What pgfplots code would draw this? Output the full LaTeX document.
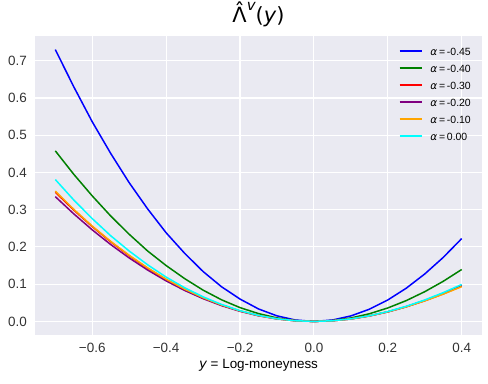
\documentclass[border=0pt]{standalone}
\usepackage{fontspec}
\setmainfont{Liberation Sans}
\newfontfamily\dejavu{DejaVu Sans}
\usepackage{pgfplots}
\pgfplotsset{compat=1.18}

\definecolor{bgc}{HTML}{EAEAF2}
\definecolor{mpurple}{RGB}{128,0,128}
\definecolor{morange}{RGB}{255,165,0}
\definecolor{mgreen}{RGB}{0,128,0}
\definecolor{mcyan}{RGB}{0,255,255}

\newcommand{\alab}[1]{{\dejavu\itshape α}\,=\,#1}

\begin{document}
\begin{tikzpicture}
\begin{axis}[
    scale only axis,
    width=447bp, height=299bp,
    xmin=-0.755, xmax=0.455,
    ymin=-0.0365, ymax=0.7665,
    axis background/.style={fill=bgc},
    axis line style={draw=none},
    tick style={draw=none},
    grid=major,
    major grid style={white, line width=1.1bp},
    xtick={-0.6,-0.4,-0.2,0,0.2,0.4},
    xticklabels={−0.6,−0.4,−0.2,0.0,0.2,0.4},
    ytick={0,0.1,0.2,0.3,0.4,0.5,0.6,0.7},
    yticklabels={0.0,0.1,0.2,0.3,0.4,0.5,0.6,0.7},
    tick label style={font=\fontsize{13.5}{16}\selectfont, text=black!80},
    xticklabel style={inner sep=0pt, anchor=north, yshift=-8bp},
    yticklabel style={inner sep=0pt, anchor=east, xshift=-8bp},
    title={{\dejavu\upshape\ooalign{Λ\cr\hidewidth\raisebox{0.2em}{ˆ}\hidewidth\cr}\raisebox{0.55em}{\fontsize{15}{17}\selectfont\itshape v}(\textit{y})}},
    title style={at={(0.5,1)}, anchor=south, inner sep=0pt, yshift=3bp,
        font=\fontsize{21}{24}\selectfont},
    xlabel={{\dejavu\itshape y} = Log-moneyness},
    xlabel style={at={(axis description cs:0.5,0)}, anchor=north, inner sep=0pt,
        yshift=-24bp, font=\fontsize{13.5}{16}\selectfont},
    legend cell align=left,
    legend style={at={(1,1)}, anchor=north east, xshift=-11bp, yshift=-11bp,
        draw=none, fill=none, inner sep=0pt, row sep=9bp,
        font=\fontsize{10.5}{12}\selectfont,
        nodes={inner sep=0pt, text height=8bp, text depth=0bp},
        /tikz/every odd column/.append style={column sep=8bp}},
    legend image code/.code={\draw[#1] (0bp,0bp) -- (22bp,0bp);},
    every axis plot/.append style={line width=1.5bp},
]

\addplot[blue] coordinates {
(-0.70,0.730) (-0.65,0.630) (-0.60,0.536) (-0.55,0.451) (-0.50,0.3725)
(-0.45,0.302) (-0.40,0.238) (-0.35,0.183) (-0.30,0.134) (-0.25,0.093)
(-0.20,0.060) (-0.15,0.0335) (-0.10,0.0149) (-0.05,0.0037) (0,0)
(0.05,0.0037) (0.10,0.0147) (0.15,0.0327) (0.20,0.0576) (0.25,0.0892)
(0.30,0.1274) (0.35,0.1718) (0.40,0.2224)
};
\addlegendentry{\alab{-0.45}}

\addplot[mgreen] coordinates {
(-0.70,0.458) (-0.65,0.395) (-0.60,0.337) (-0.55,0.283) (-0.50,0.234)
(-0.45,0.189) (-0.40,0.150) (-0.35,0.115) (-0.30,0.084) (-0.25,0.058)
(-0.20,0.037) (-0.15,0.021) (-0.10,0.0094) (-0.05,0.0023) (0,0)
(0.05,0.0023) (0.10,0.0092) (0.15,0.0205) (0.20,0.0361) (0.25,0.0559)
(0.30,0.0798) (0.35,0.1077) (0.40,0.1394)
};
\addlegendentry{\alab{-0.40}}

\addplot[red] coordinates {
(-0.70,0.347) (-0.65,0.299) (-0.60,0.2545) (-0.55,0.2136) (-0.50,0.1763)
(-0.45,0.1426) (-0.40,0.1125) (-0.35,0.0860) (-0.30,0.0631) (-0.25,0.0438)
(-0.20,0.0280) (-0.15,0.0157) (-0.10,0.0070) (-0.05,0.0017) (0,0)
(0.05,0.0017) (0.10,0.0067) (0.15,0.0148) (0.20,0.0257) (0.25,0.0394)
(0.30,0.0555) (0.35,0.0740) (0.40,0.0946)
};
\addlegendentry{\alab{-0.30}}

\addplot[mpurple] coordinates {
(-0.70,0.335) (-0.65,0.2888) (-0.60,0.2458) (-0.55,0.2064) (-0.50,0.1704)
(-0.45,0.1379) (-0.40,0.1088) (-0.35,0.0832) (-0.30,0.0611) (-0.25,0.0424)
(-0.20,0.0271) (-0.15,0.0152) (-0.10,0.0068) (-0.05,0.0017) (0,0)
(0.05,0.0017) (0.10,0.0066) (0.15,0.0146) (0.20,0.0256) (0.25,0.0395)
(0.30,0.0562) (0.35,0.0754) (0.40,0.0971)
};
\addlegendentry{\alab{-0.20}}

\addplot[morange] coordinates {
(-0.70,0.350) (-0.65,0.301) (-0.60,0.256) (-0.55,0.215) (-0.50,0.1775)
(-0.45,0.1436) (-0.40,0.1133) (-0.35,0.0866) (-0.30,0.0635) (-0.25,0.0441)
(-0.20,0.0282) (-0.15,0.0158) (-0.10,0.0070) (-0.05,0.0018) (0,0)
(0.05,0.0017) (0.10,0.0067) (0.15,0.0148) (0.20,0.0257) (0.25,0.0392)
(0.30,0.0552) (0.35,0.0733) (0.40,0.0934)
};
\addlegendentry{\alab{-0.10}}

\addplot[mcyan] coordinates {
(-0.70,0.381) (-0.65,0.326) (-0.60,0.276) (-0.55,0.230) (-0.50,0.189)
(-0.45,0.152) (-0.40,0.119) (-0.35,0.0905) (-0.30,0.066) (-0.25,0.0455)
(-0.20,0.0289) (-0.15,0.0161) (-0.10,0.0071) (-0.05,0.0018) (0,0)
(0.05,0.0017) (0.10,0.0068) (0.15,0.0151) (0.20,0.0264) (0.25,0.0406)
(0.30,0.0576) (0.35,0.0772) (0.40,0.0992)
};
\addlegendentry{\alab{0.00}}

\end{axis}
\pgfresetboundingbox
\path[use as bounding box] ([shift={(-35bp,-49bp)}]current axis.south west)
    rectangle ([shift={(6bp,36bp)}]current axis.north east);
\end{tikzpicture}
\end{document}
